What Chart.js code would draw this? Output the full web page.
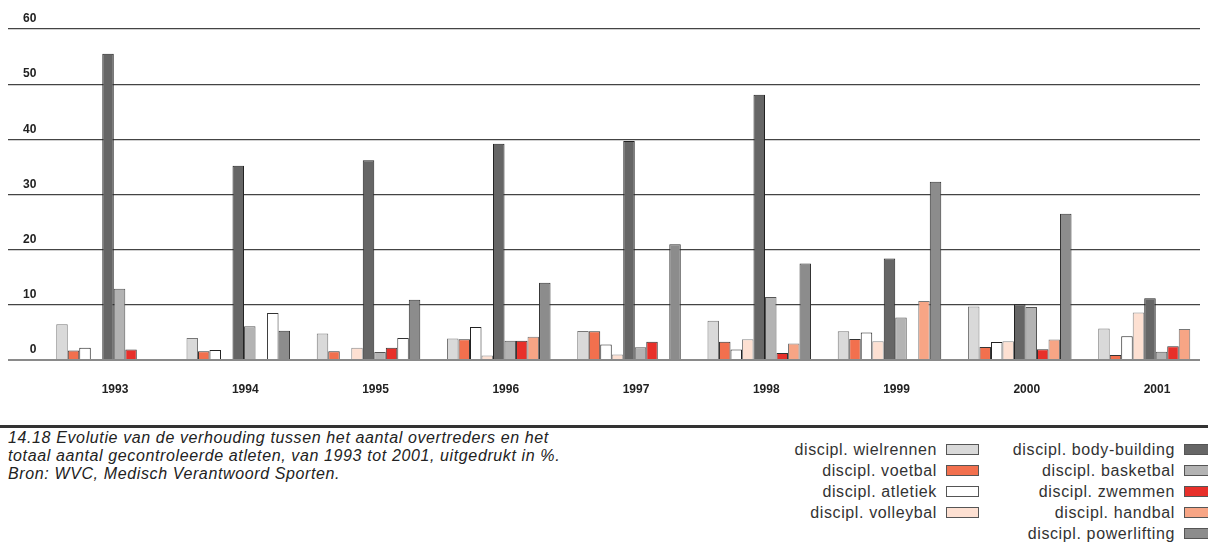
<!DOCTYPE html>
<html>
<head>
<meta charset="utf-8">
<script src="https://cdn.jsdelivr.net/npm/chart.js@4"></script>
<style>
  html, body { margin: 0; padding: 0; background: #fff; overflow: hidden; }
  body { width: 1208px; height: 545px; position: relative; font-family: "Liberation Sans", Arial, sans-serif; }
  #wrap { position: absolute; left: 0; top: 0; width: 1208px; height: 400px; }
  #rule { position: absolute; left: 0; top: 425px; width: 1208px; height: 3px; background: #333; }
  #caption { position: absolute; left: 8px; top: 429px; font-style: italic; font-size: 16px; letter-spacing: 0.62px; line-height: 18px; color: #222; }
  .col { position: absolute; top: 439px; font-size: 16px; letter-spacing: 0.62px; color: #333; }
  .row { display: flex; justify-content: flex-end; align-items: center; height: 21px; white-space: nowrap; }
  .box { display: inline-block; width: 31px; height: 9px; margin-left: 9px; border: 1px solid #555; }
</style>
</head>
<body>
<div id="wrap"><canvas id="myChart"></canvas></div>
<div id="rule"></div>
<div id="caption">14.18 Evolutie van de verhouding tussen het aantal overtreders en het<br>totaal aantal gecontroleerde atleten, van 1993 tot 2001, uitgedrukt in %.<br>Bron: WVC, Medisch Verantwoord Sporten.</div>
<div class="col" id="leg1" style="right: 229px;"></div>
<div class="col" id="leg2" style="right: -9px;"></div>
<script>
const years = [1993, 1994, 1995, 1996, 1997, 1998, 1999, 2000, 2001];
const yTicks = [0, 10, 20, 30, 40, 50, 60];

const wielrennen = [6.5, 4.0, 4.8, 3.9, 5.25, 7.1, 5.2, 9.7, 5.7];
const voetbal = [1.7, 1.6, 1.6, 3.75, 5.2, 3.3, 3.8, 2.35, 0.9];
const atletiek = [2.2, 1.8, 0, 6.0, 2.8, 1.9, 5.0, 3.25, 4.3];
const volleybal = [0, 0, 2.2, 0.8, 1.0, 3.75, 3.4, 3.4, 8.6];
const bodybuilding = [55.5, 35.2, 36.2, 39.2, 39.7, 48.1, 18.4, 10.1, 11.2];
const basketbal = [12.9, 6.1, 1.45, 3.5, 2.3, 11.4, 7.7, 9.6, 1.5];
const zwemmen = [1.9, 0, 2.2, 3.5, 3.3, 1.25, 0, 1.95, 2.5];
const handbal = [0.2, 8.5, 4.0, 4.2, 0.15, 3.0, 10.7, 3.7, 5.6];
const powerlifting = [0.2, 5.3, 10.9, 14.0, 21.0, 17.5, 32.3, 26.5, 0.2];

const names = ["discipl. wielrennen", "discipl. voetbal", "discipl. atletiek", "discipl. volleybal",
  "discipl. body-building", "discipl. basketbal", "discipl. zwemmen", "discipl. handbal", "discipl. powerlifting"];
const values = [wielrennen, voetbal, atletiek, volleybal, bodybuilding, basketbal, zwemmen, handbal, powerlifting];
const fills = ["#d9d9d9", "#f2704e", "#ffffff", "#fde0d2", "#666666", "#b3b3b3", "#e8302a", "#f7a585", "#8c8c8c"];
const edges = ["#777", "#333", "#222", "#888", "#222", "#555", "#333", "#777", "#333"];
// in 1994 and 1995 the handbal bar is printed white
const whiteHandbal = [1994, 1995];

const datasets = names.map((n, i) => ({
  label: n,
  data: values[i],
  backgroundColor: i === 7
    ? (c => whiteHandbal.includes(years[c.dataIndex]) ? "#ffffff" : fills[i])
    : fills[i],
  borderColor: i === 7
    ? (c => whiteHandbal.includes(years[c.dataIndex]) ? "#333" : edges[i])
    : edges[i],
  borderWidth: 1,
  borderSkipped: "bottom",
  categoryPercentage: 0.795,
  barPercentage: 1.0
}));

new Chart(document.getElementById("myChart"), {
  type: "bar",
  data: { labels: years, datasets: datasets },
  options: {
    responsive: true,
    maintainAspectRatio: false,
    animation: false,
    layout: { padding: { top: 29, left: 8, right: 8, bottom: 0 } },
    plugins: { legend: { display: false }, tooltip: { enabled: false } },
    scales: {
      x: {
        type: "linear",
        offset: false,
        min: 1992.232,
        max: 2001.384,
        grid: { display: false },
        border: { display: false },
        afterFit: s => { s.height = 40; },
        ticks: {
          stepSize: 1,
          includeBounds: false,
          labelOffset: 7,
          padding: 14,
          color: "#222",
          font: { family: "'Liberation Sans', Arial", size: 12, weight: "bold" },
          callback: v => String(v)
        }
      },
      y: {
        min: 0,
        max: 60,
        afterBuildTicks: s => { s.ticks = yTicks.map(v => ({ value: v })); },
        afterFit: s => { s.width = 0; },
        border: { display: false },
        grid: {
          drawTicks: false,
          color: c => c.tick.value === 0 ? "#8a8a8a" : "#444",
          lineWidth: c => c.tick.value === 0 ? 2 : 1.2
        },
        ticks: {
          mirror: true,
          crossAlign: "far",
          padding: 15,
          labelOffset: -10,
          color: "#222",
          font: { family: "'Liberation Sans', Arial", size: 12, weight: "bold" }
        }
      }
    }
  }
});

function legendRow(i) {
  return '<div class="row"><span>' + names[i] + '</span><span class="box" style="background:' +
    fills[i] + '"></span></div>';
}
document.getElementById("leg1").innerHTML = [0, 1, 2, 3].map(legendRow).join("");
document.getElementById("leg2").innerHTML = [4, 5, 6, 7, 8].map(legendRow).join("");
</script>
</body>
</html>
